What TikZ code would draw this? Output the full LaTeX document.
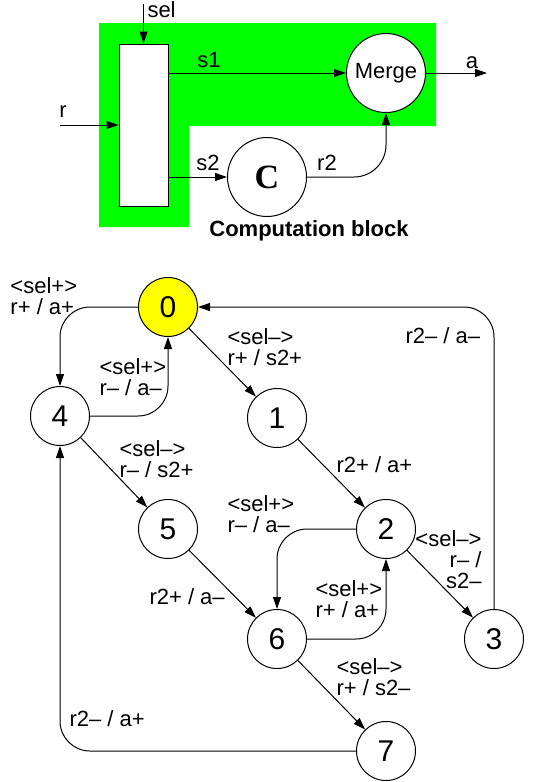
\documentclass[tikz,border=0pt]{standalone}
\usepackage{fontspec}
\setmainfont{Liberation Sans}
\newfontfamily\serifbold{Liberation Serif}
\usetikzlibrary{arrows.meta, positioning}
\definecolor{blockgreen}{HTML}{00FF00}
\definecolor{startyellow}{HTML}{FFFF00}

\begin{document}
\begin{tikzpicture}[x=0.5pt, y=-0.5pt, line width=0.5pt,
    >={Triangle[length=6pt, width=4pt]},
    every node/.style={font=\fontsize{11}{10.5}\selectfont, inner sep=0pt},
    state/.style={draw, circle, minimum size=29.5pt, font=\fontsize{15}{15}\selectfont},
    unit/.style={draw, circle, fill=white, minimum size=39.5pt},
    lbl/.style={anchor=west, align=left},
    trans/.style={->, rounded corners=15pt}]
  \useasboundingbox (0,0) rectangle (534,782);
  % computation block
  \fill[blockgreen] (99,23) -- (436,23) -- (436,126) -- (189,126) -- (189,227) -- (99,227) -- cycle;
  \node[draw, fill=white, minimum width=24.5pt, minimum height=81pt] (sw) at (143.5,125) {};
  \node[unit] (merge) at (386,73) {Merge};
  \node[unit, font=\serifbold\bfseries\fontsize{17}{17}\selectfont] (comp) at (267,177) {C};
  \coordinate (selin) at (143.5,4);
  \coordinate (rin) at (60,125);
  \coordinate (aout) at (487,73);
  \draw[->] (selin) -- (sw.north);
  \draw[->] (rin) -- (sw.west);
  \draw[->] (merge.west -| sw.east) -- (merge.west);
  \draw[->] (comp.west -| sw.east) -- (comp.west);
  \draw[->] (merge.east) -- (aout);
  \draw[->, rounded corners=16pt] (comp.east) -| (merge.south);
  \node[anchor=west] (sel) at (147,10) {sel};
  \node (s1lbl) at (209,60) {s1};
  \node (albl) at (472,63) {a};
  \node (rlbl) at (63,112) {r};
  \node (s2lbl) at (208,163) {s2};
  \node (r2lbl) at (327,163) {r2};
  \node[anchor=base, font=\bfseries\fontsize{11}{11}\selectfont] (title) at (309,236) {Computation block};
  % state graph
  \node[state, fill=startyellow] (s0) at (168,307) {0};
  \node[state] (s1) at (277,418) {1};
  \node[state] (s2) at (386,529) {2};
  \node[state] (s3) at (494,639) {3};
  \node[state] (s4) at (60,416) {4};
  \node[state] (s5) at (168,529) {5};
  \node[state] (s6) at (277,639) {6};
  \node[state] (s7) at (386,751) {7};
  \draw[trans] (s0) -| (s4);
  \draw[trans] (s4) -| (s0);
  \draw[->] (s0) -- (s1);
  \draw[->] (s1) -- (s2);
  \draw[trans] (s3) |- (s0);
  \draw[->] (s4) -- (s5);
  \draw[trans] (s2) -| (s6);
  \draw[trans] (s6) -| (s2);
  \draw[->] (s2) -- (s3);
  \draw[->] (s5) -- (s6);
  \draw[->] (s6) -- (s7);
  \draw[trans] (s7) -| (s4);
  \node[lbl] (l04) at (10,296) {<sel+>\\r+ / a+};
  \node[lbl] (l40) at (99,377) {<sel+>\\r-- / a--};
  \node[lbl] (l01) at (227,347) {<sel-->\\r+ / s2+};
  \node[lbl] (l30) at (405,336) {r2-- / a--};
  \node[lbl] (l45) at (119,459) {<sel-->\\r-- / s2+};
  \node[lbl] (l12) at (336,465) {r2+ / a+};
  \node[lbl] (l26) at (227,514) {<sel+>\\r-- / a--};
  \node[lbl, anchor=east, align=right] (l23) at (482,560) {<sel-->\\r-- /\\s2--};
  \node[lbl] (l62) at (315,599) {<sel+>\\r+ / a+};
  \node[lbl] (l56) at (149,597) {r2+ / a--};
  \node[lbl] (l67) at (336,677) {<sel-->\\r+ / s2--};
  \node[lbl] (l74) at (69,719) {r2-- / a+};
\end{tikzpicture}
\end{document}
